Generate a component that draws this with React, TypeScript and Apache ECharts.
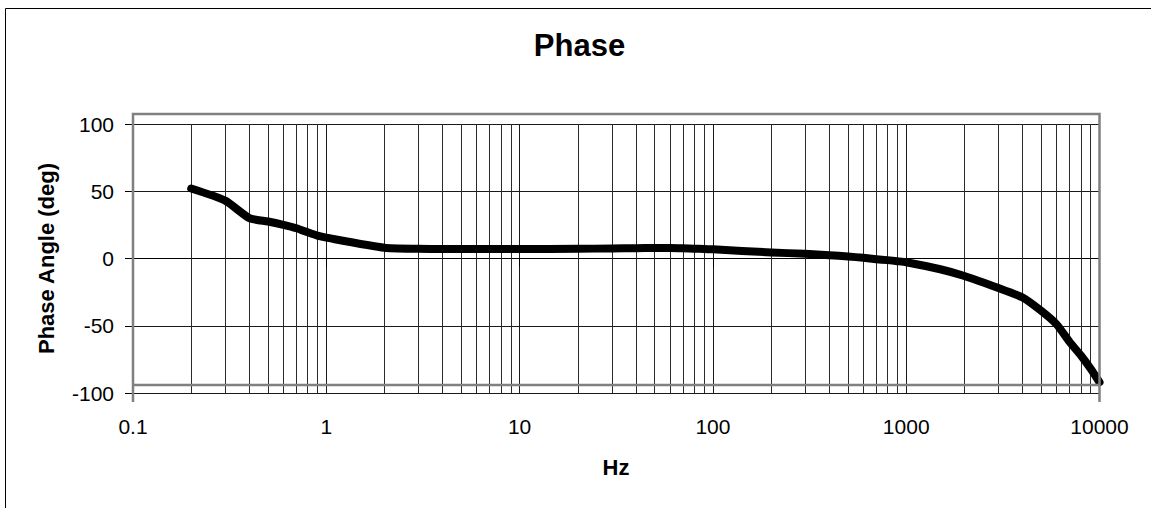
import React, { useEffect, useRef } from "react";
import * as echarts from "echarts";

const freqs = [
  0.2, 0.3, 0.4, 0.5, 0.6, 0.7, 0.8, 0.9,
  1, 2, 3, 4, 5, 6, 7, 8, 9,
  10, 20, 30, 40, 50, 60, 70, 80, 90,
  100, 200, 300, 400, 500, 600, 700, 800, 900,
  1000, 1500, 2000, 3000, 4000, 5000, 6000, 7000, 8000, 9000, 10000,
];
const phase = [
  52, 43, 30, 27.5, 25, 22.5, 19.5, 17,
  15.5, 8, 7.2, 7, 7, 7, 7, 7, 7,
  7, 7.2, 7.5, 7.7, 7.8, 7.8, 7.6, 7.3, 7.1,
  6.8, 4.5, 3.5, 2.5, 1.5, 0.5, -0.5, -1.2, -2,
  -2.8, -8, -13, -22, -29, -39, -49, -62, -72, -82, -92,
];
const minorGrid = [
  0.2, 0.3, 0.4, 0.5, 0.6, 0.7, 0.8, 0.9,
  2, 3, 4, 5, 6, 7, 8, 9,
  20, 30, 40, 50, 60, 70, 80, 90,
  200, 300, 400, 500, 600, 700, 800, 900,
  2000, 3000, 4000, 5000, 6000, 7000, 8000, 9000,
];
const yTicks = { min: -100, max: 100, interval: 50 };
const titleText = "Phase";
const xName = "Hz";
const yName = "Phase Angle (deg)";

const FONT = "'Liberation Sans', Arial, sans-serif";

export default function App() {
  const ref = useRef<HTMLDivElement>(null);
  useEffect(() => {
    document.body.style.margin = "0";
    const chart = echarts.init(ref.current!, null, { renderer: "svg" });
    const gl = 133, gr = 1099.5, gt = 124, gb = 393;
    const option: any = {
      animation: false,
      grid: { left: gl, top: gt, width: gr - gl, height: gb - gt, containLabel: false },
      xAxis: {
        type: "log",
        logBase: 10,
        min: 0.1,
        max: 10000,
        axisLine: { show: true, lineStyle: { color: "#000", width: 1 } },
        axisTick: { show: true, length: 8, lineStyle: { color: "#000" } },
        axisLabel: {
          color: "#000",
          fontSize: 21,
          fontFamily: FONT,
          margin: 23,
          formatter: (v: number) => String(v),
        },
        splitLine: { show: true, lineStyle: { color: "#1a1a1a", width: 1 } },
      },
      yAxis: {
        type: "value",
        min: yTicks.min,
        max: yTicks.max,
        interval: yTicks.interval,
        axisLine: { show: false },
        axisTick: { show: true, length: 8, lineStyle: { color: "#000" } },
        axisLabel: { color: "#000", fontSize: 21, fontFamily: FONT, margin: 19 },
        splitLine: { show: true, lineStyle: { color: "#1a1a1a", width: 1 } },
      },
      series: [
        {
          type: "line",
          data: [],
          silent: true,
          markLine: {
            silent: true,
            symbol: "none",
            label: { show: false },
            lineStyle: { color: "#2a2a2a", width: 1, type: "solid" },
            data: minorGrid.map((f) => ({ xAxis: f })),
          },
        },
        {
          type: "line",
          data: freqs.map((f, i) => [f, phase[i]]),
          showSymbol: false,
          smooth: 0.2,
          lineStyle: { color: "#000", width: 8, cap: "round", join: "round" },
          z: 5,
        },
      ],
      graphic: [
        {
          type: "rect",
          shape: { x: 5.5, y: 8.5, width: 1160, height: 520 },
          style: { fill: "none", stroke: "#000", lineWidth: 1 },
          silent: true,
        },
        {
          type: "polyline",
          shape: { points: [[gl, 402], [gl, 114], [gr, 114], [gr, 402]] },
          style: { fill: "none", stroke: "#808080", lineWidth: 2.5 },
          z: 10,
          silent: true,
        },
        {
          type: "line",
          shape: { x1: gl, y1: 385, x2: gr, y2: 385 },
          style: { stroke: "#808080", lineWidth: 2.5 },
          z: 10,
          silent: true,
        },
        {
          type: "text",
          x: 579.5,
          y: 45,
          style: {
            text: titleText,
            fontSize: 31,
            fontWeight: "bold",
            fontFamily: FONT,
            fill: "#000",
            align: "center",
            verticalAlign: "middle",
          },
        },
        {
          type: "text",
          x: 616,
          y: 467,
          style: {
            text: xName,
            fontSize: 22,
            fontWeight: "bold",
            fontFamily: FONT,
            fill: "#000",
            align: "center",
            verticalAlign: "middle",
          },
        },
        {
          type: "text",
          x: 46,
          y: 258.5,
          rotation: Math.PI / 2,
          style: {
            text: yName,
            fontSize: 22,
            fontWeight: "bold",
            fontFamily: FONT,
            fill: "#000",
            align: "center",
            verticalAlign: "middle",
          },
        },
      ],
    };
    chart.setOption(option);
    return () => chart.dispose();
  }, []);
  return <div ref={ref} style={{ width: 1151, height: 508 }} />;
}
